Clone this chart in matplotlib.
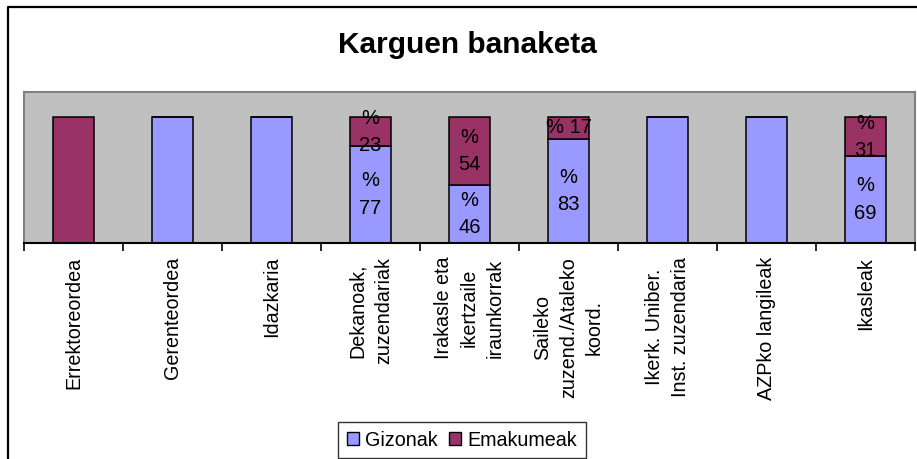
import matplotlib
matplotlib.use("Agg")
import matplotlib.pyplot as plt
from matplotlib.lines import Line2D
from matplotlib.patches import Patch

plt.rcParams['font.family'] = ['Liberation Sans', 'DejaVu Sans']

categories = ['Errektoreordea', 'Gerenteordea', 'Idazkaria',
              'Dekanoak,\nzuzendariak', 'Irakasle eta\nikertzaile\niraunkorrak',
              'Saileko\nzuzend./Ataleko\nkoord.', 'Ikerk. Uniber.\nInst. zuzendaria',
              'AZPko langileak', 'Ikasleak']
gizonak = [0, 100, 100, 77, 46, 83, 100, 100, 69]
emakumeak = [100, 0, 0, 23, 54, 17, 0, 0, 31]
# data labels as Excel wrapped them
giz_labels = ['', '', '', '%\n77', '%\n46', '%\n83', '', '', '%\n69']
ema_labels = ['', '', '', '%\n23', '%\n54', '% 17', '', '', '%\n31']

blue = '#9999FF'
maroon = '#993366'

fig = plt.figure(figsize=(9.17, 4.59), dpi=100)
ax = fig.add_axes([24 / 917, 216 / 459, 891 / 917, 151 / 459])
ax.set_facecolor('#C0C0C0')

x = list(range(len(categories)))
ax.bar(x, gizonak, width=0.41, color=blue, edgecolor='black', linewidth=1.1, zorder=2)
ax.bar(x, emakumeak, width=0.41, bottom=gizonak, color=maroon, edgecolor='black',
       linewidth=1.1, zorder=2)

for i in x:
    if giz_labels[i]:
        ax.text(i, gizonak[i] / 2, giz_labels[i], ha='center', va='center',
                fontsize=14.5, linespacing=1.55, zorder=3)
    if ema_labels[i]:
        ax.text(i, gizonak[i] + emakumeak[i] / 2, ema_labels[i], ha='center', va='center',
                fontsize=14.5, linespacing=1.55, zorder=3)

ax.set_xlim(-0.5, len(categories) - 0.5)
ax.set_ylim(0, 120)
ax.set_yticks([])
ax.set_xticks([i - 0.5 for i in range(len(categories) + 1)])
ax.set_xticklabels([])
ax.tick_params(axis='x', direction='out', length=6, width=1.2, color='black')
for i, lab in enumerate(categories):
    ax.text(i, -11, lab, rotation=90, ha='center', va='top', multialignment='center',
            fontsize=14.2, linespacing=1.45)

for side in ['top', 'left', 'right']:
    ax.spines[side].set_color('#808080')
    ax.spines[side].set_linewidth(1.5)
ax.spines['bottom'].set_color('black')
ax.spines['bottom'].set_linewidth(1.5)

fig.text(467 / 917, 1 - 45 / 459, 'Karguen banaketa', ha='center', va='center',
         fontsize=21.5, fontweight='bold')

handles = [Patch(facecolor=blue, edgecolor='black', linewidth=1.0),
           Patch(facecolor=maroon, edgecolor='black', linewidth=1.0)]
leg = fig.legend(handles, ['Gizonak', 'Emakumeak'], loc='center', ncol=2,
                 bbox_to_anchor=(462 / 917, 1 - 440 / 459), fontsize=14.2,
                 frameon=True, fancybox=False, edgecolor='black',
                 handlelength=0.6, handleheight=0.6, handletextpad=0.3,
                 columnspacing=0.6, borderpad=0.45, borderaxespad=0)
leg.get_frame().set_linewidth(1.0)

# outer chart border (right and bottom edges fall outside the image)
fig.add_artist(Line2D([8 / 917, 8 / 917, 1.0], [0.0, 1 - 7 / 459, 1 - 7 / 459],
                      color='black', linewidth=1.6, transform=fig.transFigure))

fig.savefig('out.png', dpi=100)
